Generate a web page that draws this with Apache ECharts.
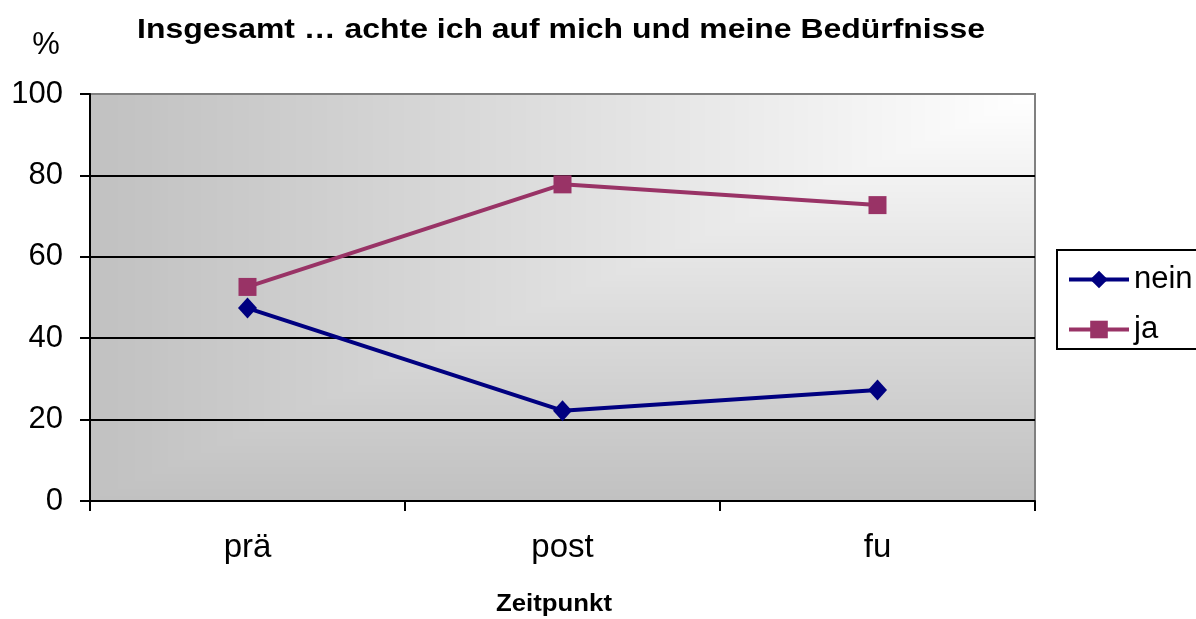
<!DOCTYPE html>
<html>
<head>
<meta charset="utf-8">
<script src="https://cdn.jsdelivr.net/npm/echarts@6/dist/echarts.min.js"></script>
<style>
html,body{margin:0;padding:0;background:#fff;}
#chart{width:1196px;height:619px;}
</style>
</head>
<body>
<div id="chart"></div>
<script>
const categories = ['prä', 'post', 'fu'];
const neinValues = [47.4, 22.2, 27.3];
const jaValues = [52.6, 77.8, 72.7];
const yTicks = [0, 20, 40, 60, 80, 100];
const titleText = 'Insgesamt … achte ich auf mich und meine Bedürfnisse';
const xAxisTitle = 'Zeitpunkt';
const yAxisTitle = '%';

const GRID = {left: 90, top: 94, width: 945, height: 407};
const FONT = '"Liberation Sans", Arial, sans-serif';

// corner gradient background for plot area
const bg = document.createElement('canvas');
bg.width = GRID.width; bg.height = GRID.height;
(function(){
  const ctx = bg.getContext('2d');
  const img = ctx.createImageData(bg.width, bg.height);
  const W = bg.width, H = bg.height;
  for (let y = 0; y < H; y++) {
    for (let x = 0; x < W; x++) {
      let v = Math.min(x / (W - 1), 1 - y / (H - 1));
      v = Math.pow(Math.max(v, 0), 1.05);
      const c = Math.round(193 + (255 - 193) * v);
      const i = (y * W + x) * 4;
      img.data[i] = c; img.data[i+1] = c; img.data[i+2] = c; img.data[i+3] = 255;
    }
  }
  ctx.putImageData(img, 0, 0);
})();

const chart = echarts.init(document.getElementById('chart'), null, {renderer: 'canvas'});
chart.setOption({
  animation: false,
  backgroundColor: '#ffffff',
  textStyle: {fontFamily: FONT},
  grid: {
    left: GRID.left, top: GRID.top, width: GRID.width, height: GRID.height,
    show: true, borderColor: '#808080', borderWidth: 2, backgroundColor: 'transparent'
  },
  graphic: [
    {type: 'image', left: GRID.left, top: GRID.top, z: -100, silent: true,
     style: {image: bg, width: GRID.width, height: GRID.height}},
    {type: 'text', x: 561, y: 30, scaleX: 1.14, silent: true,
     style: {text: titleText, align: 'center', verticalAlign: 'middle',
             font: 'bold 28px "Liberation Sans", Arial, sans-serif', fill: '#000'}},
    {type: 'text', x: 46, y: 45, silent: true,
     style: {text: yAxisTitle, align: 'center', verticalAlign: 'middle',
             font: '31px "Liberation Sans", Arial, sans-serif', fill: '#000'}},
    {type: 'text', x: 554, y: 605, scaleX: 1.12, silent: true,
     style: {text: xAxisTitle, align: 'center', verticalAlign: 'middle',
             font: 'bold 23px "Liberation Sans", Arial, sans-serif', fill: '#000'}}
  ],
  legend: {
    orient: 'vertical',
    left: 1057, top: 250,
    borderColor: '#000', borderWidth: 2,
    padding: [14, 30, 4, 10],
    itemGap: 19,
    itemWidth: 60, itemHeight: 22,
    lineStyle: {width: 4},
    textStyle: {fontSize: 31, color: '#000', fontFamily: FONT},
    data: ['nein', 'ja']
  },
  xAxis: {
    type: 'category',
    data: categories,
    boundaryGap: true,
    axisLine: {lineStyle: {color: '#000', width: 2}},
    axisTick: {show: true, length: 10, lineStyle: {color: '#000', width: 2}},
    axisLabel: {fontSize: 33, color: '#000', margin: 30, fontFamily: FONT},
    splitLine: {show: false}
  },
  yAxis: {
    type: 'value',
    min: yTicks[0], max: yTicks[yTicks.length - 1], interval: 20,
    axisLine: {show: true, lineStyle: {color: '#000', width: 2}},
    axisTick: {show: true, length: 10, lineStyle: {color: '#000', width: 2}},
    axisLabel: {fontSize: 31, color: '#000', margin: 27, fontFamily: FONT},
    splitLine: {show: true, lineStyle: {color: ['#000', '#000', '#000', '#000', '#000', '#808080'], width: 2}}
  },
  series: [
    {
      name: 'nein', type: 'line', data: neinValues,
      symbol: 'diamond', symbolSize: [19, 21],
      lineStyle: {color: '#000080', width: 4},
      itemStyle: {color: '#000080'}
    },
    {
      name: 'ja', type: 'line', data: jaValues,
      symbol: 'rect', symbolSize: 18,
      lineStyle: {color: '#993366', width: 4},
      itemStyle: {color: '#993366'}
    }
  ]
});
</script>
</body>
</html>
